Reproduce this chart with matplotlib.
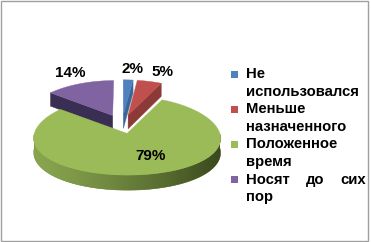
import numpy as np
import matplotlib
matplotlib.use('Agg')
import matplotlib.pyplot as plt
from matplotlib.patches import Polygon, Rectangle

# data
categories = [['Не', 'использовался'], ['Меньше', 'назначенного'],
              ['Положенное', 'время'], ['Носят до сих', 'пор']]
values = [2, 5, 79, 14]
pct_labels = ['2%', '5%', '79%', '14%']
explode = [0.25, 0.25, 0.25, 0.25]

top_colors = ['#4F81BD', '#C0504D', '#9BBB59', '#8064A2']
side_colors = ['#3B6597', '#8C3A38', '#6A8A33', '#3A2E52']
green_light = np.array([0x88, 0xA5, 0x4E]) / 255
green_dark = np.array([0x3A, 0x48, 0x1E]) / 255

# pie geometry in pixel units (axes spans the whole figure)
CX, CY = 122, 124
RX, RY = 90, 38
DZ = 14
KX, KY = 0.12, 0.06  # perspective
label_r = [1.58, 1.58, 0.85, 1.6]
label_shift = [-1.5, -3.5, 7.0, 0.0]

plt.rcParams['font.family'] = ['Liberation Sans', 'DejaVu Sans']


def project(u, v, w=0.0):
    sx = 1.0 / (1.0 + KX * v)
    sy = 1.0 / (1.0 + KY * v)
    return CX + RX * u * sx, CY - sy * (RY * v + DZ * w)


def poly(ax, pts, color, z):
    p = Polygon(pts, closed=True, facecolor=color, edgecolor=color,
                linewidth=0.3, zorder=z)
    ax.add_patch(p)
    return p


fig = plt.figure(figsize=(3.71, 2.42), dpi=100)
ax = fig.add_axes([0, 0, 1, 1])
ax.axis('off')

total = float(sum(values))
wedges = []
start = 90.0
for i, val in enumerate(values):
    a1 = start
    a2 = start - val / total * 360.0
    start = a2
    mid = (a1 + a2) / 2
    ox = explode[i] * np.cos(np.radians(mid))
    oy = explode[i] * np.sin(np.radians(mid))
    wedges.append((i, a1, a2, mid, ox, oy))

# draw back wedges first
order = sorted(wedges, key=lambda w: -w[5])
for rank, (i, a1, a2, mid, ox, oy) in enumerate(order):
    z = 2 + rank * 10
    th = np.radians(np.linspace(a1, a2, 150))
    # radial faces facing the viewer
    for ang, normal in ((a1, a1 + 90), (a2, a2 - 90)):
        if np.sin(np.radians(normal)) < -1e-6:
            u, v = ox + np.cos(np.radians(ang)), oy + np.sin(np.radians(ang))
            pts = [project(ox, oy, 0), project(u, v, 0),
                   project(u, v, -1), project(ox, oy, -1)]
            poly(ax, pts, side_colors[i], z)
    # outer curved side (front half only), shaded left to right
    front = th[np.sin(th) < 0]
    if len(front) > 1:
        top = [project(ox + np.cos(t), oy + np.sin(t), 0) for t in front]
        bot = [project(ox + np.cos(t), oy + np.sin(t), -1) for t in front[::-1]]
        side = poly(ax, top + bot, side_colors[i], z + 1)
        xs = np.array([p[0] for p in top + bot])
        ys = np.array([p[1] for p in top + bot])
        t = np.linspace(0, 1, 200) ** 1.3
        grad = green_light[None, :] * (1 - t[:, None]) + green_dark[None, :] * t[:, None]
        img = ax.imshow(grad[None, :, :], extent=[xs.min(), xs.max(), ys.max(), ys.min()],
                        aspect='auto', zorder=z + 1.5, interpolation='bilinear')
        img.set_clip_path(side)
    # top face
    pts = [project(ox, oy, 0)] + [project(ox + np.cos(t), oy + np.sin(t), 0) for t in th]
    poly(ax, pts, top_colors[i], z + 2)

ax.set_xlim(0, 371)
ax.set_ylim(242, 0)

# percentage labels
for i, a1, a2, mid, ox, oy in wedges:
    ang = np.radians(mid + label_shift[i])
    x, y = project(label_r[i] * np.cos(ang), label_r[i] * np.sin(ang))
    ax.text(x, y, pct_labels[i], ha='center', va='center', fontsize=11,
            fontweight='bold', color='black', zorder=100)

# legend
renderer = fig.canvas.get_renderer()
lx_marker, lx_text, lx_right = 231, 246, 366
ly, step = 74, 17.6
line_no = 0
for i, lines in enumerate(categories):
    y_first = ly + line_no * step
    ax.add_patch(Rectangle((lx_marker, y_first - 3.5), 7, 7,
                           facecolor=top_colors[i], edgecolor='none', zorder=100))
    for k, line in enumerate(lines):
        y = ly + line_no * step
        words = line.split()
        if len(words) > 1 and k < len(lines) - 1:
            txts = [ax.text(0, y, wd, ha='left', va='center', fontsize=10.7,
                            fontweight='bold') for wd in words]
            widths = [tt.get_window_extent(renderer).width for tt in txts]
            gap = (lx_right - lx_text - sum(widths)) / (len(words) - 1)
            x = lx_text
            for tt, wdt in zip(txts, widths):
                tt.set_x(x)
                x += wdt + gap
        else:
            ax.text(lx_text, y, line, ha='left', va='center', fontsize=10.7,
                    fontweight='bold')
        line_no += 1

# chart border
ax.add_patch(Rectangle((0.5, 0.5), 367.5, 240.5, fill=False,
                       edgecolor='#A0A0A0', linewidth=1.0, zorder=200))

fig.savefig('out.png', dpi=100)
